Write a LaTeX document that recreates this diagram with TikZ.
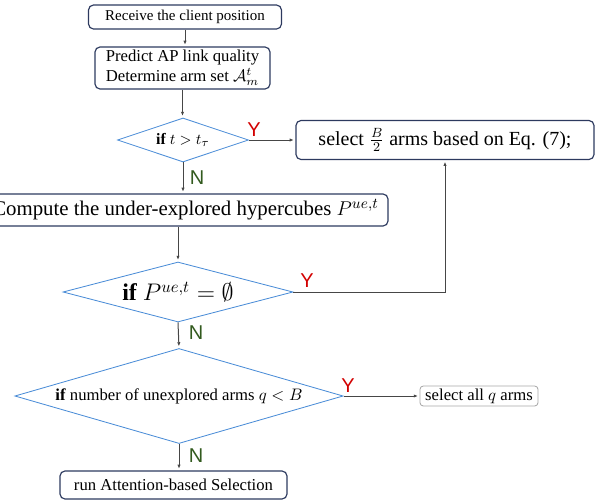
\documentclass[tikz,border=0pt]{standalone}
\usepackage{amssymb}
\usepackage{amsmath}
\usepackage{fontspec}
\setmainfont{Liberation Serif}
\setsansfont{Liberation Sans}
\usepackage{tikz}
\usetikzlibrary{shapes.geometric,arrows.meta,positioning}

\definecolor{boxline}{RGB}{45,58,95}
\definecolor{decline}{RGB}{74,140,215}
\definecolor{wire}{RGB}{70,70,70}
\definecolor{yescol}{RGB}{210,0,0}
\definecolor{nocol}{RGB}{50,90,30}
\tikzset{
  box/.style={draw=boxline,rounded corners=3pt,line width=0.7pt,align=center,inner sep=1pt},
  dec/.style={draw=decline,diamond,line width=0.5pt,inner sep=1pt},
  flow/.style={draw=wire,line width=0.6pt,-{Latex[length=2.5pt,width=2pt]},shorten >=1pt},
  yes/.style={text=yescol,font=\fontsize{12}{12}\sffamily},
  no/.style={text=nocol,font=\fontsize{12}{12}\sffamily}
}

\begin{document}
\begin{tikzpicture}[x=0.6pt,y=-0.6pt]
  \clip (0,0) rectangle (609,502);
  \node[box,minimum width=115.8pt,minimum height=14.4pt,font=\fontsize{9}{11}\selectfont] (recv) at (185,17) {Receive the client position};
  \node[box,minimum width=105pt,minimum height=25.2pt,font=\fontsize{10}{12}\selectfont] (pred) at (182.5,68) {Predict AP link quality\\Determine arm set $\mathcal{A}_m^t$};
  \node[dec,aspect=2.98,minimum width=78.6pt,minimum height=26.4pt,font=\fontsize{9.5}{11}\selectfont] (ift) at (183,140) {$\textbf{if}\ t>t_\tau$};
  \node[box,minimum width=178.8pt,minimum height=23.4pt,font=\fontsize{12}{14}\selectfont] (half) at (445,140) {select $\frac{B}{2}$ arms based on Eq. (7);};
  \node[box,minimum width=243pt,minimum height=19.2pt,font=\fontsize{12.5}{14}\selectfont] (hyp) at (185.5,210) {Compute the under-explored hypercubes $P^{ue,t}$};
  \node[dec,aspect=3.83,minimum width=138pt,minimum height=36pt,font=\fontsize{14.4}{16}\selectfont] (ifp) at (178,292) {$\textbf{if}\ P^{ue,t}=\emptyset$};
  \node[dec,aspect=3.45,minimum width=197pt,minimum height=57pt,font=\fontsize{10}{12}\selectfont] (ifq) at (179,396) {\textbf{if} number of unexplored arms $q<B$};
  \node[box,draw=gray!70,rounded corners=2pt,line width=0.5pt,minimum width=70.8pt,minimum height=12pt,font=\fontsize{10}{12}\selectfont] (all) at (479,396) {select all $q$ arms};
  \node[box,minimum width=136.2pt,minimum height=16.8pt,font=\fontsize{10}{12}\selectfont] (att) at (173.5,485) {run Attention-based Selection};

  \draw[flow] (recv.south) -- (recv.south |- pred.north);
  \draw[flow] (pred.south) -- (pred.south |- ift.north);
  \draw[flow] (ift.east) -- (ift.east -| half.west);
  \draw[flow] (ift.south) -- (ift.south |- hyp.north);
  \draw[flow] (hyp.south -| ifp.north) -- (ifp.north);
  \draw[flow] (ifp.east) -| (half.south);
  \draw[flow] (ifp.south) -- (ifq.north);
  \draw[flow] (ifq.east) -- (ifq.east -| all.west);
  \draw[flow] (ifq.south) -- (ifq.south |- att.north);

  \node[yes] (y1) at (254,130) {Y};
  \node[no] (n1) at (197,178) {N};
  \node[yes] (y2) at (307,281) {Y};
  \node[no] (n2) at (196,333) {N};
  \node[yes] (y3) at (348,386) {Y};
  \node[no] (n3) at (196,456) {N};
\end{tikzpicture}
\end{document}
